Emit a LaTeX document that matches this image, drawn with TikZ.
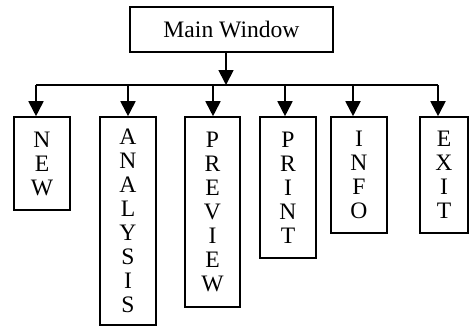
\documentclass[tikz,border=0pt]{standalone}
\usepackage{fontspec}
\setmainfont{Liberation Serif}
\usetikzlibrary{arrows.meta}
\begin{document}
\begin{tikzpicture}[x=0.5pt,y=-0.5pt,
  box/.style={draw, line width=0.8pt, inner sep=0pt, align=center,
    font=\fontsize{11.8pt}{12pt}\selectfont},
  tall/.style={box, minimum width=28pt},
  conn/.style={line width=0.9pt},
  arr/.style={conn, -{Triangle[width=7.5pt,length=7.5pt]}}]
\useasboundingbox (0,0) rectangle (469,326);
\node[box, minimum width=101.5pt, minimum height=22.5pt] (main) at (231.5,29.5) {Main Window};
\node[tall, minimum height=46.5pt] (new) at (42,163.5) {N\\E\\W};
\node[tall, minimum height=104pt] (ana) at (128,221) {A\\N\\A\\L\\Y\\S\\I\\S};
\node[tall, minimum width=27.5pt, minimum height=95pt] (pre) at (212.5,212) {P\\R\\E\\V\\I\\E\\W};
\node[tall, minimum height=70.5pt] (pri) at (288,187.5) {P\\R\\I\\N\\T};
\node[tall, minimum height=58pt] (info) at (359,175) {I\\N\\F\\O};
\node[tall, minimum width=24pt, minimum height=58pt] (exit) at (444,175) {E\\X\\I\\T};
\coordinate (bus) at (226,85);
\coordinate (b1) at (36,85);
\coordinate (b2) at (128,85);
\coordinate (b3) at (213,85);
\coordinate (b4) at (285,85);
\coordinate (b5) at (353,85);
\coordinate (b6) at (438,85);
\draw[arr] (main.south -| bus) -- (bus);
\draw[conn] (b1) -- (b6);
\draw[arr] (b1) -- (b1 |- new.north);
\draw[arr] (b2) -- (b2 |- ana.north);
\draw[arr] (b3) -- (b3 |- pre.north);
\draw[arr] (b4) -- (b4 |- pri.north);
\draw[arr] (b5) -- (b5 |- info.north);
\draw[arr] (b6) -- (b6 |- exit.north);
\end{tikzpicture}
\end{document}
